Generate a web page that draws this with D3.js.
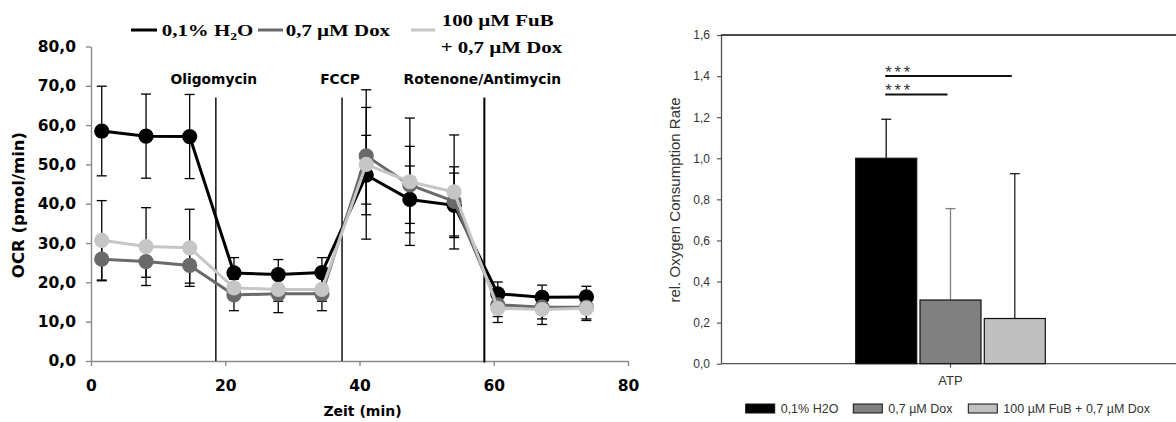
<!DOCTYPE html>
<meta charset="utf-8">
<title>OCR time course and ATP-linked respiration</title>
<style>
  body { margin: 0; background: #fff; }
  svg { display: block; }
  .left text { font-family: "DejaVu Sans", sans-serif; font-weight: bold; fill: #000; }
  .left .legend text { font-family: "Liberation Serif", serif; font-weight: bold; }
  .right text { font-family: "Liberation Sans", Arial, sans-serif; fill: #333; }
</style>
<body>
<script src="https://cdn.jsdelivr.net/npm/d3@7"></script>
<script>
// --- left panel: OCR over time ---
var times = [1.6, 8.2, 14.7, 21.3, 27.9, 34.4, 41.0, 47.5, 54.1, 60.6, 67.2, 73.8];

var h2oMean = [58.5, 57.2, 57.1, 22.4, 22.0, 22.5, 47.3, 41.1, 39.6, 17.1, 16.2, 16.3];
var h2oSD   = [11.4, 10.7, 10.7, 3.9, 3.8, 3.8, 10.1, 8.5, 8.2, 3.0, 3.1, 2.7];
var doxMean = [25.9, 25.3, 24.3, 16.8, 17.1, 17.1, 52.2, 44.8, 40.6, 14.3, 13.7, 13.7];
var doxSD   = [5.5, 4.0, 4.5, 4.0, 4.8, 4.3, 12.3, 9.8, 8.8, 3.0, 3.0, 3.0];
var fubMean = [30.7, 29.1, 28.8, 18.6, 18.2, 18.2, 50.0, 45.6, 43.0, 13.4, 13.1, 13.4];
var fubSD   = [10.1, 9.9, 9.8, 3.0, 3.0, 3.0, 19.0, 16.2, 14.5, 3.6, 3.8, 3.1];

var injNames = ["Oligomycin", "FCCP", "Rotenone/Antimycin"];
var injTimes = [18.6, 37.4, 58.6];

var yTicksL = [0, 10, 20, 30, 40, 50, 60, 70, 80];
var xTicksL = [0, 20, 40, 60, 80];

// --- right panel: ATP bars ---
var seriesNames = ["0,1% H2O", "0,7 µM Dox", "100 µM FuB + 0,7 µM Dox"];
var atpValue = [1.0, 0.31, 0.22];
var atpErr   = [0.19, 0.445, 0.705];
var sigPairs = [[0, 1, 1.31], [0, 2, 1.40]];   // from bar, to bar, height
var yTicksR = [0, 0.2, 0.4, 0.6, 0.8, 1.0, 1.2, 1.4, 1.6];

var lineColors = ["#000000", "#6a6a6a", "#c6c6c6"];
var barColors  = ["#000000", "#808080", "#c0c0c0"];
var errColors  = ["#111111", "#808080", "#222222"];

var comma = function(d) { return d.toFixed(1).replace(".", ","); };

var svg = d3.select("body").append("svg")
    .attr("width", 1176)
    .attr("height", 422);

// ================= left chart =================
var L = svg.append("g").attr("class", "left");

var x = d3.scaleLinear().domain([0, 80]).range([91, 628]);
var y = d3.scaleLinear().domain([0, 80]).range([361, 46.5]);

var yAxis = d3.axisLeft(y).tickValues(yTicksL).tickFormat(comma)
    .tickSize(5).tickSizeOuter(0).tickPadding(10);
var xAxis = d3.axisBottom(x).tickValues(xTicksL).tickFormat(d3.format("d"))
    .tickSize(5).tickSizeOuter(0).tickPadding(14);

L.append("g").attr("transform", "translate(91,0)").call(yAxis)
    .call(function(g) {
      g.select(".domain").attr("stroke", "#8a8a8a").attr("stroke-width", 1.4);
      g.selectAll(".tick line").attr("stroke", "#8a8a8a").attr("stroke-width", 1.4);
      g.selectAll("text").attr("font-size", 15.5).attr("font-family", null).attr("fill", "#000");
    });
L.append("g").attr("transform", "translate(0,361)").call(xAxis)
    .call(function(g) {
      g.select(".domain").attr("stroke", "#8a8a8a").attr("stroke-width", 1.4);
      g.selectAll(".tick line").attr("stroke", "#8a8a8a").attr("stroke-width", 1.4);
      g.selectAll("text").attr("font-size", 15.5).attr("font-family", null).attr("fill", "#000");
    });

L.append("text")
    .attr("x", (x.range()[0] + x.range()[1]) / 2 + 3)
    .attr("y", 416)
    .attr("text-anchor", "middle")
    .attr("font-size", 14)
    .text("Zeit (min)");

L.append("text")
    .attr("transform", "translate(24," + 205 + ") rotate(-90)")
    .attr("text-anchor", "middle")
    .attr("font-size", 16.5)
    .text("OCR (pmol/min)");

// injection markers
injTimes.forEach(function(t, i) {
  L.append("line")
      .attr("x1", x(t)).attr("x2", x(t))
      .attr("y1", y(67)).attr("y2", y(i === 2 ? -0.4 : 0))
      .attr("stroke", "#000")
      .attr("stroke-width", i === 2 ? 2 : 1.4);
  L.append("text")
      .attr("x", x(t) - 2)
      .attr("y", 84)
      .attr("text-anchor", "middle")
      .attr("font-size", 13.8)
      .text(injNames[i]);
});

var groups = [
  { mean: h2oMean, sd: h2oSD },
  { mean: doxMean, sd: doxSD },
  { mean: fubMean, sd: fubSD }
];

// error bars (behind)
groups.forEach(function(s) {
  var eg = L.append("g").attr("stroke", "#000").attr("stroke-width", 1.3);
  times.forEach(function(t, i) {
    var hi = y(s.mean[i] + s.sd[i]), lo = y(s.mean[i] - s.sd[i]), cx = x(t);
    eg.append("line").attr("x1", cx).attr("x2", cx).attr("y1", hi).attr("y2", lo);
    eg.append("line").attr("x1", cx - 5).attr("x2", cx + 5).attr("y1", hi).attr("y2", hi);
    eg.append("line").attr("x1", cx - 5).attr("x2", cx + 5).attr("y1", lo).attr("y2", lo);
  });
});

var line = d3.line().x(function(d) { return x(d[0]); }).y(function(d) { return y(d[1]); });

groups.forEach(function(s, k) {
  var pts = times.map(function(t, i) { return [t, s.mean[i]]; });
  L.append("path")
      .attr("d", line(pts))
      .attr("fill", "none")
      .attr("stroke", lineColors[k])
      .attr("stroke-width", 3);
  L.append("g").selectAll("circle").data(pts).join("circle")
      .attr("cx", function(d) { return x(d[0]); })
      .attr("cy", function(d) { return y(d[1]); })
      .attr("r", 7.6)
      .attr("fill", lineColors[k]);
});

// legend (top)
var leg = L.append("g").attr("class", "legend");
var legX = [[131, 157, 161.7], [258, 283, 285.7], [411, 435, 441.7]];
legX.forEach(function(p, k) {
  leg.append("line")
      .attr("x1", p[0]).attr("x2", p[1]).attr("y1", 30).attr("y2", 30)
      .attr("stroke", lineColors[k]).attr("stroke-width", 3);
});
var t0 = leg.append("text").attr("transform", "translate(161.7,36) scale(1.23,1)").attr("font-size", 17);
t0.append("tspan").text("0,1% H");
t0.append("tspan").attr("font-size", 11).attr("dy", 4).text("2");
t0.append("tspan").attr("dy", -4).text("O");
leg.append("text").attr("transform", "translate(285.7,36) scale(1.23,1)").attr("font-size", 17)
    .text(seriesNames[1]);
leg.append("text").attr("transform", "translate(441.7,26) scale(1.23,1)").attr("font-size", 17)
    .text("100 µM FuB");
leg.append("text").attr("transform", "translate(440.7,53) scale(1.23,1)").attr("font-size", 17)
    .text("+ 0,7 µM Dox");

// ================= right chart =================
var R = svg.append("g").attr("class", "right");

var yR = d3.scaleLinear().domain([0, 1.6]).range([363.7, 35]);
var xR = d3.scaleBand().domain(["ATP"]).range([721, 1180]);
var inner = d3.scaleBand().domain(seriesNames).range([-94.8, 94.8]).paddingInner(0.051);

var yAxisR = d3.axisLeft(yR).tickValues(yTicksR).tickFormat(comma)
    .tickSize(4).tickSizeOuter(0).tickPadding(7);
R.append("g").attr("transform", "translate(721,0)").call(yAxisR)
    .call(function(g) {
      g.select(".domain").attr("stroke", "#555").attr("stroke-width", 1.3);
      g.selectAll(".tick line").attr("stroke", "#555").attr("stroke-width", 1.2);
      g.selectAll("text").attr("font-size", 12).attr("font-family", null).attr("fill", "#333");
    });

var xAxisR = d3.axisBottom(xR).tickSize(4).tickSizeOuter(0).tickPadding(8);
R.append("g").attr("transform", "translate(0,363.7)").call(xAxisR)
    .call(function(g) {
      g.select(".domain").remove();
      g.selectAll(".tick line").attr("stroke", "#555").attr("stroke-width", 1.2);
      g.selectAll("text").attr("font-size", 13).attr("font-family", null).attr("fill", "#333");
    });

// frame lines
R.append("line").attr("x1", 721).attr("x2", 1176).attr("y1", yR(0)).attr("y2", yR(0))
    .attr("stroke", "#555").attr("stroke-width", 1.3);
R.append("line").attr("x1", 721).attr("x2", 1176).attr("y1", yR(1.6)).attr("y2", yR(1.6))
    .attr("stroke", "#111").attr("stroke-width", 1.3);

var cx0 = xR("ATP") + xR.bandwidth() / 2;
function barCenter(i) { return cx0 + inner(seriesNames[i]) + inner.bandwidth() / 2; }

seriesNames.forEach(function(name, i) {
  var bx = cx0 + inner(name), bw = inner.bandwidth();
  // error bar (upper only)
  var c = barCenter(i), top = yR(atpValue[i] + atpErr[i]);
  R.append("line").attr("x1", c).attr("x2", c).attr("y1", yR(atpValue[i])).attr("y2", top)
      .attr("stroke", errColors[i]).attr("stroke-width", 1.3);
  R.append("line").attr("x1", c - 5).attr("x2", c + 5).attr("y1", top).attr("y2", top)
      .attr("stroke", errColors[i]).attr("stroke-width", 1.3);
  R.append("rect")
      .attr("x", bx).attr("y", yR(atpValue[i]))
      .attr("width", bw).attr("height", yR(0) - yR(atpValue[i]))
      .attr("fill", barColors[i])
      .attr("stroke", "#111").attr("stroke-width", 1.2);
});

// significance
sigPairs.forEach(function(p) {
  var yy = yR(p[2]);
  R.append("line").attr("x1", barCenter(p[0]) - 1).attr("x2", barCenter(p[1]) - 3)
      .attr("y1", yy).attr("y2", yy).attr("stroke", "#111").attr("stroke-width", 2);
  R.append("text")
      .attr("x", barCenter(p[0]) - 1).attr("y", yy + 1.5)
      .attr("font-family", "'DejaVu Sans', sans-serif")
      .attr("font-size", 16.5).attr("letter-spacing", 2.8).attr("fill", "#555")
      .text("***");
});

R.append("text")
    .attr("transform", "translate(680,200) rotate(-90)")
    .attr("text-anchor", "middle")
    .attr("font-size", 15)
    .text("rel. Oxygen Consumption Rate");

// legend (bottom)
var legR = [745.7, 853.3, 968.3];
seriesNames.forEach(function(name, i) {
  R.append("rect").attr("x", legR[i]).attr("y", 404).attr("width", 29).attr("height", 9)
      .attr("fill", barColors[i]).attr("stroke", "#111").attr("stroke-width", 1);
  R.append("text").attr("x", legR[i] + 35).attr("y", 413).attr("font-size", 12.5).text(name);
});
</script>
</body>
